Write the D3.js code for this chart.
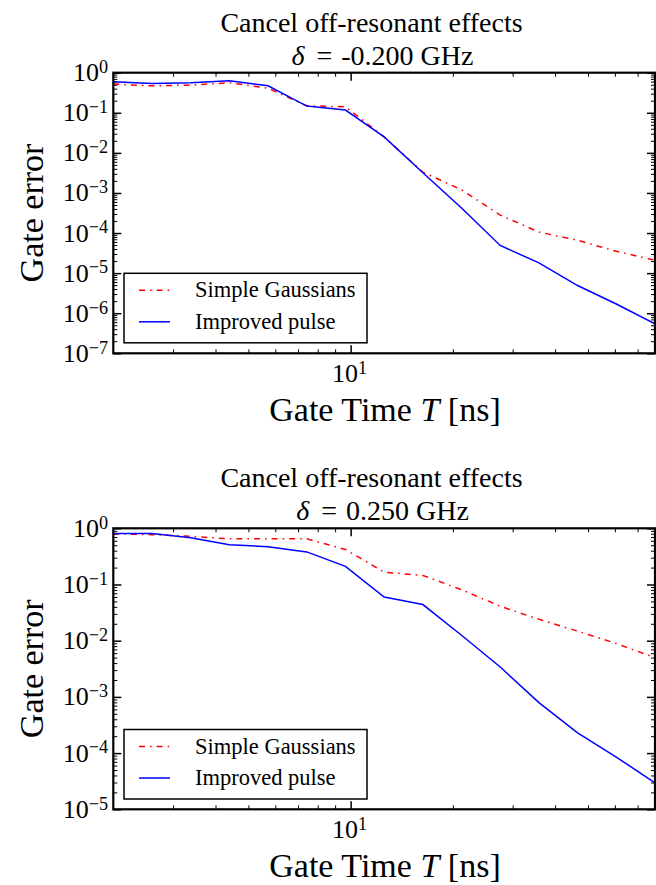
<!DOCTYPE html>
<html>
<head>
<meta charset="utf-8">
<script src="https://cdn.jsdelivr.net/npm/d3@7"></script>
<style>
  html, body { margin: 0; padding: 0; background: #fff; }
  svg { display: block; }
  text { font-family: "Liberation Serif", "DejaVu Serif", serif; fill: #000; }
</style>
</head>
<body>
<svg id="chart" width="656" height="885"></svg>
<script>
// ---- data ----
const gateTimes = [2, 2.6, 3.38, 4.394, 5.712, 7.426, 9.654, 12.55, 16.32, 21.21, 27.57, 35.85, 46.60, 60.58, 78.76];

const topGaussians = [0.52, 0.47, 0.49, 0.56, 0.41, 0.15, 0.141, 0.025, 0.0033, 1.2e-3, 2.8e-4, 1.06e-4, 6.6e-5, 3.5e-5, 2.1e-5];
const topImproved  = [0.596, 0.54, 0.56, 0.63, 0.47, 0.147, 0.117, 0.025, 0.0032, 4.2e-4, 4.9e-5, 1.8e-5, 4.9e-6, 1.7e-6, 5.4e-7];

const bottomGaussians = [0.8, 0.77, 0.72, 0.65, 0.65, 0.65, 0.42, 0.166, 0.145, 0.081, 0.041, 0.024, 0.0148, 0.0089, 0.005];
const bottomImproved  = [0.81, 0.81, 0.68, 0.51, 0.47, 0.38, 0.21, 0.06, 0.044, 0.0125, 0.0034, 7.9e-4, 2.3e-4, 8.5e-5, 2.95e-5];

const seriesNames = ["Simple Gaussians", "Improved pulse"];
const titleLine1 = "Cancel off-resonant effects";
const topDelta = "-0.200";
const bottomDelta = "0.250";
const xMajorTicks = [10];
const xMinorTicks = [3, 4, 5, 6, 7, 8, 9, 20, 30, 40, 50, 60, 70];
const topYExponents = [0, -1, -2, -3, -4, -5, -6, -7];
const bottomYExponents = [0, -1, -2, -3, -4, -5];

// ---- drawing ----
const svg = d3.select("#chart");
svg.append("rect").attr("width", 656).attr("height", 885).attr("fill", "#fff");

const DASH = "6,5,1.6,5";

function minorTicksFor(exps) {
  const lo = Math.min(...exps), hi = Math.max(...exps);
  const out = [];
  for (let e = lo; e < hi; e++) for (let m = 2; m <= 9; m++) out.push(m * Math.pow(10, e));
  return out;
}

function supLabel(sel, base, exp) {
  sel.append("tspan").text(base);
  sel.append("tspan").attr("dy", "-0.45em").attr("font-size", "0.7em").text(exp);
}

function panel(cfg) {
  const L = 113.3, R = 655, T0 = cfg.top, B0 = cfg.bottom;
  const x = d3.scaleLog().domain([2, 78.76]).range([L, R]);
  const minExp = Math.min(...cfg.exps);
  const y = d3.scaleLog().domain([Math.pow(10, minExp), 1]).range([B0, T0]);
  const g = svg.append("g");

  const clipId = "clip" + cfg.id;
  svg.append("clipPath").attr("id", clipId).append("rect")
    .attr("x", L).attr("y", T0).attr("width", R - L).attr("height", B0 - T0);

  // ticks (inward, all four sides)
  const majY = cfg.exps.map(e => Math.pow(10, e));
  const minY = minorTicksFor(cfg.exps);
  const tickStyle = s => s.call(a => a.select(".domain").remove())
    .call(a => a.selectAll("line").attr("stroke", "#000"));

  g.append("g").attr("transform", `translate(${L},0)`)
    .call(d3.axisLeft(y).tickValues(majY).tickSize(-8).tickFormat(""))
    .call(tickStyle).selectAll("line").attr("stroke-width", 1.5);
  g.append("g").attr("transform", `translate(${L},0)`)
    .call(d3.axisLeft(y).tickValues(minY).tickSize(-4).tickFormat(""))
    .call(tickStyle).selectAll("line").attr("stroke-width", 1);
  g.append("g").attr("transform", `translate(${R},0)`)
    .call(d3.axisRight(y).tickValues(majY).tickSize(-8).tickFormat(""))
    .call(tickStyle).selectAll("line").attr("stroke-width", 1.5);
  g.append("g").attr("transform", `translate(${R},0)`)
    .call(d3.axisRight(y).tickValues(minY).tickSize(-4).tickFormat(""))
    .call(tickStyle).selectAll("line").attr("stroke-width", 1);

  g.append("g").attr("transform", `translate(0,${B0})`)
    .call(d3.axisBottom(x).tickValues(xMajorTicks).tickSize(-8).tickFormat(""))
    .call(tickStyle).selectAll("line").attr("stroke-width", 1.5);
  g.append("g").attr("transform", `translate(0,${B0})`)
    .call(d3.axisBottom(x).tickValues(xMinorTicks).tickSize(-4).tickFormat(""))
    .call(tickStyle).selectAll("line").attr("stroke-width", 1);
  g.append("g").attr("transform", `translate(0,${T0})`)
    .call(d3.axisTop(x).tickValues(xMajorTicks).tickSize(-8).tickFormat(""))
    .call(tickStyle).selectAll("line").attr("stroke-width", 1.5);
  g.append("g").attr("transform", `translate(0,${T0})`)
    .call(d3.axisTop(x).tickValues(xMinorTicks).tickSize(-4).tickFormat(""))
    .call(tickStyle).selectAll("line").attr("stroke-width", 1);

  // y tick labels
  cfg.exps.forEach(e => {
    const t = g.append("text").attr("x", 108).attr("y", y(Math.pow(10, e)) + 8.5)
      .attr("text-anchor", "end").attr("font-size", 26);
    supLabel(t, "10", e === 0 ? "0" : "\u2212" + (-e));
  });
  // x tick labels
  xMajorTicks.forEach(v => {
    const t = g.append("text").attr("x", x(v) - 1).attr("y", B0 + 29)
      .attr("text-anchor", "middle").attr("font-size", 26);
    supLabel(t, "10", "1");
  });

  // lines
  const line = d3.line().x((d, i) => x(gateTimes[i])).y(d => y(d));
  const lg = g.append("g").attr("clip-path", `url(#${clipId})`);
  lg.append("path").datum(cfg.gauss).attr("d", line)
    .attr("fill", "none").attr("stroke", "#ff0000").attr("stroke-width", 1.5)
    .attr("stroke-dasharray", DASH);
  lg.append("path").datum(cfg.improved).attr("d", line)
    .attr("fill", "none").attr("stroke", "#0000ff").attr("stroke-width", 1.5);

  // frame
  g.append("rect").attr("x", L).attr("y", T0).attr("width", R - L).attr("height", B0 - T0)
    .attr("fill", "none").attr("stroke", "#000").attr("stroke-width", 2.2);

  // legend
  const lx = 124, ly = cfg.legendTop, lw = 243, lh = 69.5;
  g.append("rect").attr("x", lx).attr("y", ly).attr("width", lw).attr("height", lh)
    .attr("fill", "#fff").attr("stroke", "#000").attr("stroke-width", 1.5);
  const rows = [
    {name: seriesNames[0], color: "#ff0000", dash: DASH, dy: 17},
    {name: seriesNames[1], color: "#0000ff", dash: null, dy: 48.5}
  ];
  rows.forEach(r => {
    g.append("line").attr("x1", lx + 15).attr("x2", lx + 46)
      .attr("y1", ly + r.dy).attr("y2", ly + r.dy)
      .attr("stroke", r.color).attr("stroke-width", 1.5)
      .attr("stroke-dasharray", r.dash);
    g.append("text").attr("x", lx + 71).attr("y", ly + r.dy + 7)
      .attr("font-size", 22.5).text(r.name);
  });

  // titles
  g.append("text").attr("x", 371.5).attr("y", T0 - 41).attr("text-anchor", "middle")
    .attr("font-size", 28).text(titleLine1);
  const t2 = g.append("text").attr("x", 382.5).attr("y", T0 - 8).attr("text-anchor", "middle")
    .attr("font-size", 28);
  t2.append("tspan").attr("font-style", "italic").text("\u03b4");
  t2.append("tspan").attr("dx", 5).text(" = ");
  t2.append("tspan").attr("dx", 2).text(cfg.delta + " GHz");

  // axis labels
  const xl = g.append("text").attr("x", 385).attr("y", B0 + 68).attr("text-anchor", "middle")
    .attr("font-size", 34);
  xl.append("tspan").text("Gate Time ");
  xl.append("tspan").attr("font-style", "italic").text("T");
  xl.append("tspan").text(" [ns]");
  g.append("text").attr("transform", `translate(43,${(T0 + B0) / 2}) rotate(-90)`)
    .attr("text-anchor", "middle").attr("font-size", 34).text("Gate error");
}

panel({id: "a", top: 72.7, bottom: 353.3, exps: topYExponents,
  gauss: topGaussians, improved: topImproved, delta: topDelta, legendTop: 273.3});
panel({id: "b", top: 528.3, bottom: 809.3, exps: bottomYExponents,
  gauss: bottomGaussians, improved: bottomImproved, delta: bottomDelta, legendTop: 729.5});
</script>
</body>
</html>
